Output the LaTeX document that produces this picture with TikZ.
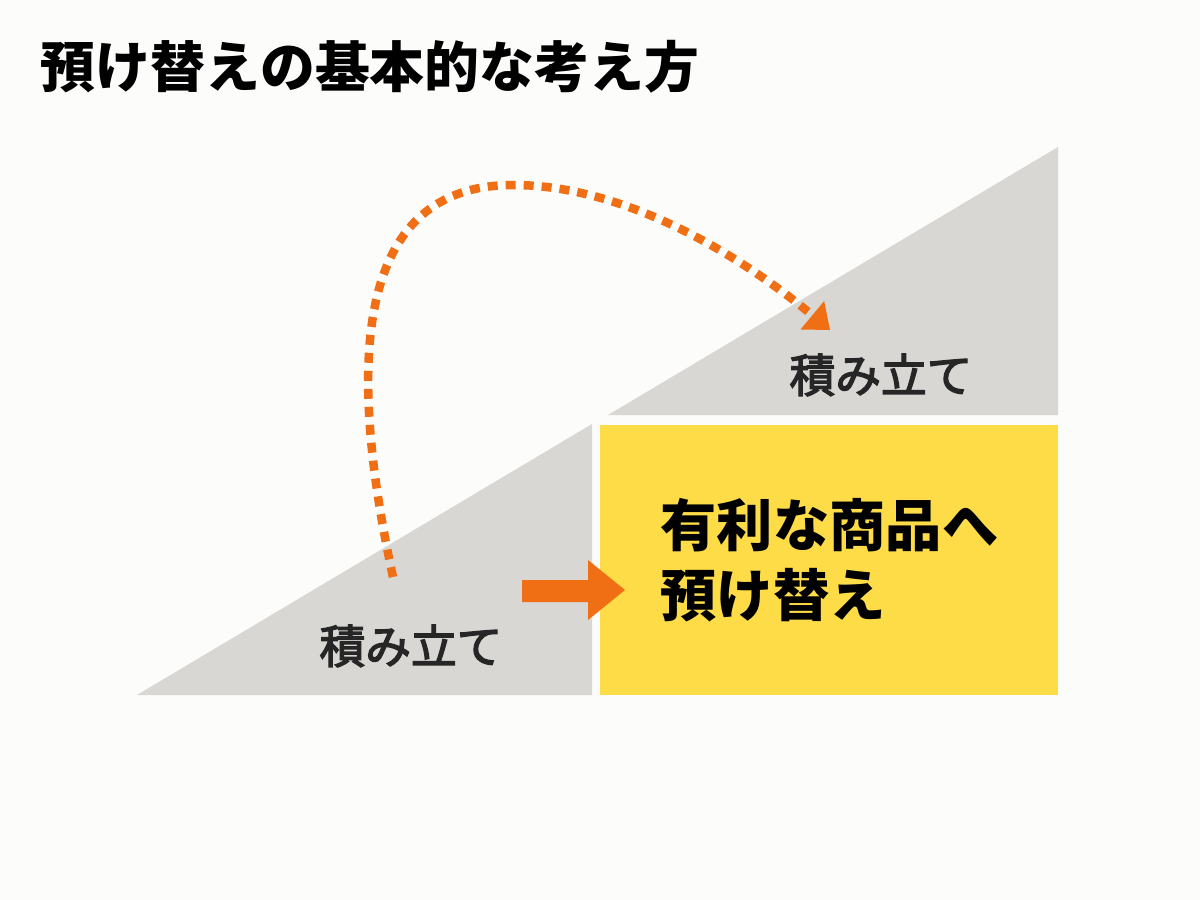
\documentclass[tikz,border=0pt]{standalone}
\usepackage{fontspec}
\usepackage{tikz}
\usepackage{xcolor}
\usetikzlibrary{arrows.meta}
\newfontfamily\jpfont{Noto Sans CJK JP}
\newfontfamily\jpmid{Noto Sans CJK JP}[FakeBold=3]
\definecolor{rampgray}{RGB}{217,215,212}
\definecolor{boxyellow}{RGB}{253,220,72}
\definecolor{arroworange}{RGB}{240,110,20}
\definecolor{paper}{RGB}{252,252,250}
\tikzset{
  steplabel/.style={font=\jpmid\fontsize{13}{16}\selectfont,text=black!85,inner sep=0},
  hop/.style={arroworange,line width=0.085cm,dash pattern=on 0.1cm off 0.08cm,-{Triangle[length=0.23cm,width=0.37cm,line width=0pt]}}
}

\begin{document}
\begin{tikzpicture}[x=0.01cm,y=-0.01cm]
\fill[paper] (0,0) rectangle (1200,900);
\fill[rampgray] (137,695) -- (592,695) -- (592,424) -- cycle;
\fill[rampgray] (608,415) -- (1058,415) -- (1058,147) -- cycle;
\fill[boxyellow] (600,425) rectangle (1058,695);
\fill[arroworange] (522,580) -- (588,580) -- (588,560) -- (625,590) -- (588,620) -- (588,602) -- (522,602) -- cycle;
\node[anchor=west,inner sep=0,font=\jpfont\bfseries\fontsize{15.6}{18}\selectfont] (title) at (40,67) {預け替えの基本的な考え方};
\node[steplabel] (lowstep) at (411,646) {積み立て};
\node[steplabel] (highstep) at (881,375) {積み立て};
\node[anchor=west,align=left,inner sep=0,font=\jpfont\bfseries\fontsize{16}{20}\selectfont] (switch) at (660,560) {有利な商品へ\\預け替え};
\coordinate (from) at (393,577);
\coordinate (to) at (830,330);
\draw[hop] (from) .. controls (335,310) and (380,185) .. (513,185) .. controls (625,185) and (740,255) .. (to);
\end{tikzpicture}
\end{document}
